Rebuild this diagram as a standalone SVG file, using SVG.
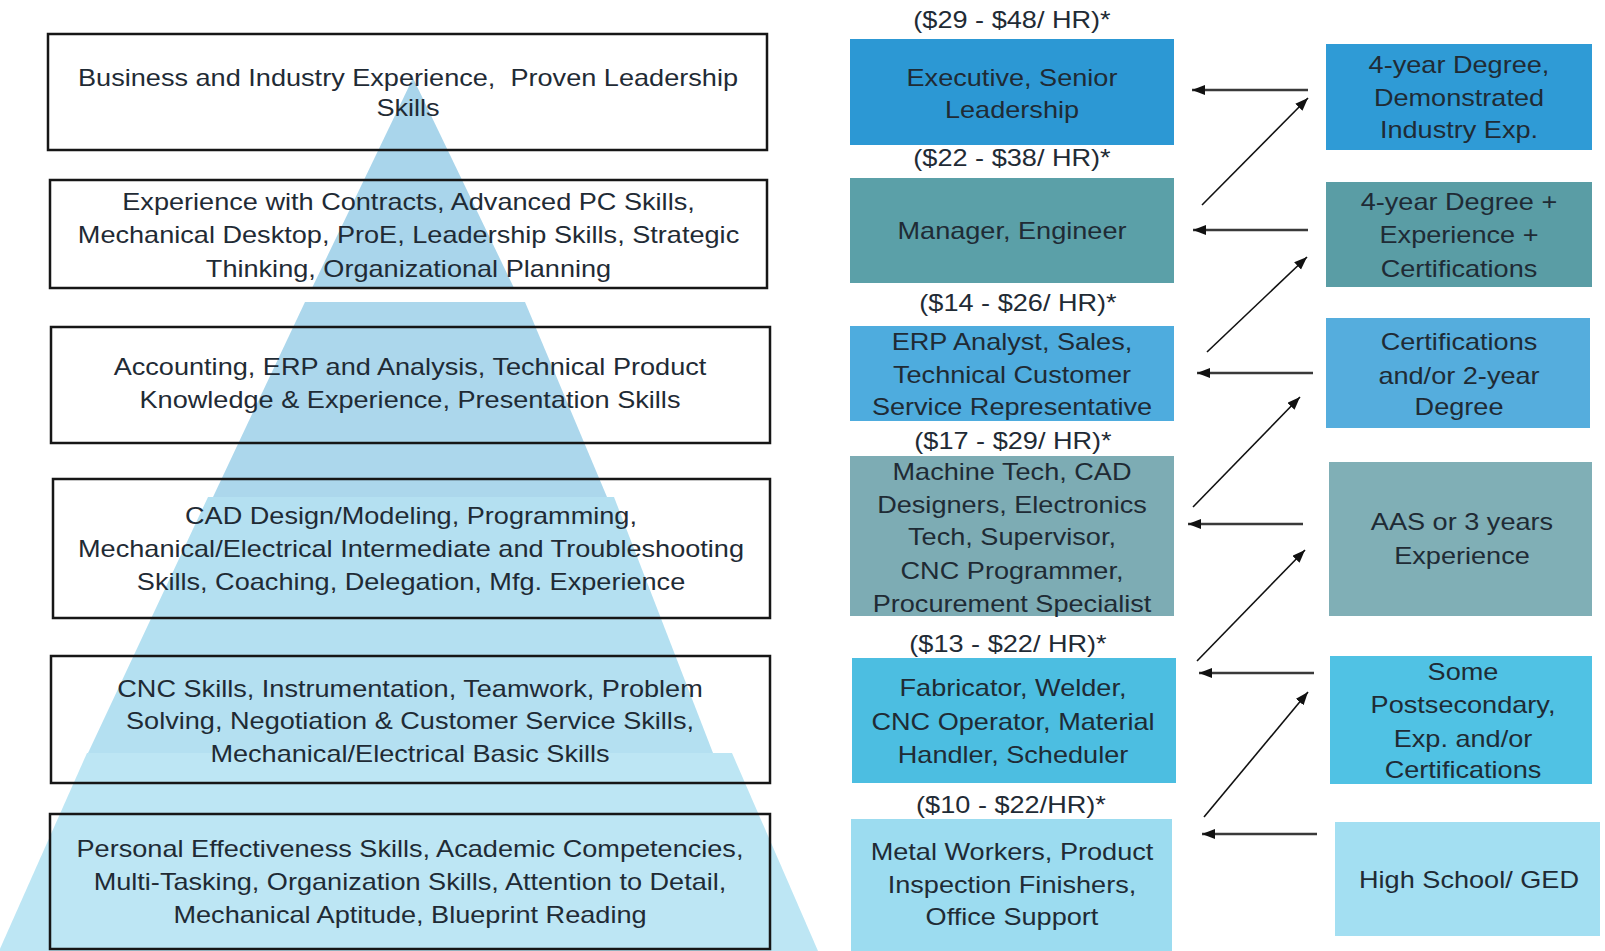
<svg xmlns="http://www.w3.org/2000/svg" width="1605" height="951" viewBox="0 0 1605 951">
<style>
.t{font-family:"Liberation Sans",Arial,sans-serif;font-size:24px;fill:#1f2b35;text-anchor:middle}
.lb{fill:none;stroke:#161616;stroke-width:2.5}
.h{stroke:#3a3a3a;stroke-width:2.5;fill:none}
.d{stroke:#111;stroke-width:1.6;fill:none}
</style>
<defs>
<marker id="ah" markerUnits="userSpaceOnUse" markerWidth="14" markerHeight="11" refX="13" refY="5" orient="auto">
<path d="M0,0 L13,5 L0,10 z" fill="#111"/>
</marker>
</defs>
<rect width="1605" height="951" fill="#ffffff"/>
<g id="pyramid">
<polygon points="413,78 514,288 312,288" fill="#a9d5eb"/>
<polygon points="305,302 525,302 607,497 213,497" fill="#acd7ec"/>
<polygon points="208,497 614,497 713,753 88,753" fill="#b4e0f1"/>
<polygon points="87,753 732,753 818,951 -1,951" fill="#bde6f4"/>
</g>
<g id="skill1"><rect class="lb" x="48" y="34" width="719" height="116"/>
<text class="t" transform="translate(408,0) scale(1.13,1)"><tspan x="0" y="86">Business and Industry Experience,&#160; Proven Leadership</tspan><tspan x="0" y="116">Skills</tspan></text></g>
<g id="skill2"><rect class="lb" x="50" y="180" width="717" height="108"/>
<text class="t" transform="translate(408.5,0) scale(1.13,1)"><tspan x="0" y="210">Experience with Contracts, Advanced PC Skills,</tspan><tspan x="0" y="243">Mechanical Desktop, ProE, Leadership Skills, Strategic</tspan><tspan x="0" y="277">Thinking, Organizational Planning</tspan></text></g>
<g id="skill3"><rect class="lb" x="51" y="327" width="719" height="116"/>
<text class="t" transform="translate(410,0) scale(1.13,1)"><tspan x="0" y="375">Accounting, ERP and Analysis, Technical Product</tspan><tspan x="0" y="408">Knowledge &amp; Experience, Presentation Skills</tspan></text></g>
<g id="skill4"><rect class="lb" x="53" y="479" width="717" height="139"/>
<text class="t" transform="translate(411,0) scale(1.13,1)"><tspan x="0" y="524">CAD Design/Modeling, Programming,</tspan><tspan x="0" y="557">Mechanical/Electrical Intermediate and Troubleshooting</tspan><tspan x="0" y="590">Skills, Coaching, Delegation, Mfg. Experience</tspan></text></g>
<g id="skill5"><rect class="lb" x="51" y="656" width="719" height="127"/>
<text class="t" transform="translate(410,0) scale(1.13,1)"><tspan x="0" y="697">CNC Skills, Instrumentation, Teamwork, Problem</tspan><tspan x="0" y="729">Solving, Negotiation &amp; Customer Service Skills,</tspan><tspan x="0" y="762">Mechanical/Electrical Basic Skills</tspan></text></g>
<g id="skill6"><rect class="lb" x="50" y="814" width="720" height="135"/>
<text class="t" transform="translate(410,0) scale(1.13,1)"><tspan x="0" y="857">Personal Effectiveness Skills, Academic Competencies,</tspan><tspan x="0" y="890">Multi-Tasking, Organization Skills, Attention to Detail,</tspan><tspan x="0" y="923">Mechanical Aptitude, Blueprint Reading</tspan></text></g>

<g id="job1"><text class="t" transform="translate(1012,0) scale(1.13,1)"><tspan x="0" y="28">($29 - $48/ HR)*</tspan></text>
<rect x="850" y="39" width="324" height="106" fill="#2c98d4"/>
<text class="t" transform="translate(1012,0) scale(1.13,1)"><tspan x="0" y="86">Executive, Senior</tspan><tspan x="0" y="118">Leadership</tspan></text></g>
<g id="job2"><text class="t" transform="translate(1012,0) scale(1.13,1)"><tspan x="0" y="166">($22 - $38/ HR)*</tspan></text>
<rect x="850" y="178" width="324" height="105" fill="#5ba0a8"/>
<text class="t" transform="translate(1012,0) scale(1.13,1)"><tspan x="0" y="239">Manager, Engineer</tspan></text></g>
<g id="job3"><text class="t" transform="translate(1018,0) scale(1.13,1)"><tspan x="0" y="311">($14 - $26/ HR)*</tspan></text>
<rect x="850" y="326" width="324" height="95" fill="#4eacde"/>
<text class="t" transform="translate(1012,0) scale(1.13,1)"><tspan x="0" y="350">ERP Analyst, Sales,</tspan><tspan x="0" y="383">Technical Customer</tspan><tspan x="0" y="415">Service Representative</tspan></text></g>
<g id="job4"><text class="t" transform="translate(1013,0) scale(1.13,1)"><tspan x="0" y="449">($17 - $29/ HR)*</tspan></text>
<rect x="850" y="456" width="324" height="160" fill="#7dacb4"/>
<text class="t" transform="translate(1012,0) scale(1.13,1)"><tspan x="0" y="480">Machine Tech, CAD</tspan><tspan x="0" y="513">Designers, Electronics</tspan><tspan x="0" y="545">Tech, Supervisor,</tspan><tspan x="0" y="579">CNC Programmer,</tspan><tspan x="0" y="612">Procurement Specialist</tspan></text></g>
<g id="job5"><text class="t" transform="translate(1008,0) scale(1.13,1)"><tspan x="0" y="652">($13 - $22/ HR)*</tspan></text>
<rect x="852" y="658" width="324" height="125" fill="#4cbee1"/>
<text class="t" transform="translate(1013,0) scale(1.13,1)"><tspan x="0" y="696">Fabricator, Welder,</tspan><tspan x="0" y="730">CNC Operator, Material</tspan><tspan x="0" y="763">Handler, Scheduler</tspan></text></g>
<g id="job6"><text class="t" transform="translate(1011,0) scale(1.13,1)"><tspan x="0" y="813">($10 - $22/HR)*</tspan></text>
<rect x="851" y="819" width="321" height="132" fill="#9cdcf0"/>
<text class="t" transform="translate(1012,0) scale(1.13,1)"><tspan x="0" y="860">Metal Workers, Product</tspan><tspan x="0" y="893">Inspection Finishers,</tspan><tspan x="0" y="925">Office Support</tspan></text></g>

<g id="edu1"><rect x="1326" y="44" width="266" height="106" fill="#2f9bd6"/>
<text class="t" transform="translate(1459,0) scale(1.13,1)"><tspan x="0" y="73">4-year Degree,</tspan><tspan x="0" y="106">Demonstrated</tspan><tspan x="0" y="138">Industry Exp.</tspan></text></g>
<g id="edu2"><rect x="1326" y="182" width="266" height="105" fill="#5a9da5"/>
<text class="t" transform="translate(1459,0) scale(1.13,1)"><tspan x="0" y="210">4-year Degree +</tspan><tspan x="0" y="243">Experience +</tspan><tspan x="0" y="277">Certifications</tspan></text></g>
<g id="edu3"><rect x="1326" y="318" width="264" height="110" fill="#55addd"/>
<text class="t" transform="translate(1459,0) scale(1.13,1)"><tspan x="0" y="350">Certifications</tspan><tspan x="0" y="384">and/or 2-year</tspan><tspan x="0" y="415">Degree</tspan></text></g>
<g id="edu4"><rect x="1329" y="462" width="263" height="154" fill="#80afb6"/>
<text class="t" transform="translate(1462,0) scale(1.13,1)"><tspan x="0" y="530">AAS or 3 years</tspan><tspan x="0" y="564">Experience</tspan></text></g>
<g id="edu5"><rect x="1330" y="656" width="262" height="128" fill="#50c2e4"/>
<text class="t" transform="translate(1463,0) scale(1.13,1)"><tspan x="0" y="680">Some</tspan><tspan x="0" y="713">Postsecondary,</tspan><tspan x="0" y="747">Exp. and/or</tspan><tspan x="0" y="778">Certifications</tspan></text></g>
<g id="edu6"><rect x="1335" y="822" width="265" height="114" fill="#a3dff2"/>
<text class="t" transform="translate(1469,0) scale(1.13,1)"><tspan x="0" y="888">High School/ GED</tspan></text></g>

<g id="connectors">
<line class="h" x1="1308" y1="90" x2="1192" y2="90" marker-end="url(#ah)"/>
<line class="h" x1="1308" y1="230" x2="1193" y2="230" marker-end="url(#ah)"/>
<line class="h" x1="1313" y1="373" x2="1197" y2="373" marker-end="url(#ah)"/>
<line class="h" x1="1303" y1="524" x2="1188" y2="524" marker-end="url(#ah)"/>
<line class="h" x1="1314" y1="673" x2="1199" y2="673" marker-end="url(#ah)"/>
<line class="h" x1="1317" y1="834" x2="1202" y2="834" marker-end="url(#ah)"/>
<line class="d" x1="1202" y1="205" x2="1308" y2="98" marker-end="url(#ah)"/>
<line class="d" x1="1207" y1="352" x2="1307" y2="257" marker-end="url(#ah)"/>
<line class="d" x1="1193" y1="507" x2="1300" y2="397" marker-end="url(#ah)"/>
<line class="d" x1="1197" y1="661" x2="1305" y2="550" marker-end="url(#ah)"/>
<line class="d" x1="1204" y1="817" x2="1308" y2="692" marker-end="url(#ah)"/>
</g>
</svg>
